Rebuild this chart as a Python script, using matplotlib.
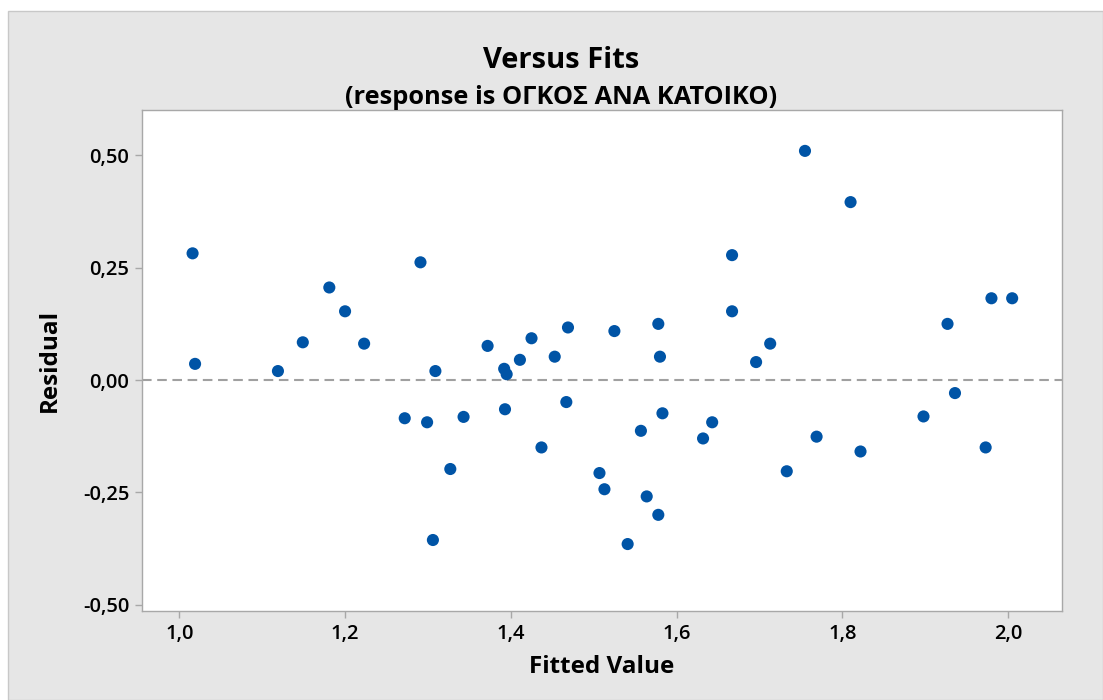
import matplotlib
matplotlib.use("Agg")
import matplotlib.pyplot as plt
from matplotlib.ticker import FuncFormatter
from matplotlib.patches import Rectangle

plt.rcParams['font.family'] = ['Open Sans', 'DejaVu Sans']

fitted = [1.016, 1.019, 1.119, 1.149, 1.181, 1.200, 1.223, 1.272, 1.291, 1.299,
          1.306, 1.309, 1.327, 1.343, 1.372, 1.392, 1.395, 1.393, 1.411, 1.425,
          1.437, 1.453, 1.467, 1.469, 1.507, 1.513, 1.525, 1.541, 1.557, 1.564,
          1.578, 1.578, 1.580, 1.583, 1.632, 1.643, 1.667, 1.667, 1.696, 1.713,
          1.733, 1.755, 1.769, 1.810, 1.822, 1.898, 1.927, 1.936, 1.973, 1.980,
          2.005]
residual = [0.282, 0.036, 0.020, 0.084, 0.206, 0.153, 0.081, -0.085, 0.262, -0.094,
            -0.356, 0.020, -0.198, -0.082, 0.076, 0.025, 0.013, -0.065, 0.045, 0.093,
            -0.150, 0.052, -0.049, 0.117, -0.207, -0.243, 0.109, -0.365, -0.113, -0.259,
            0.125, -0.300, 0.052, -0.074, -0.130, -0.094, 0.278, 0.153, 0.040, 0.081,
            -0.203, 0.510, -0.126, 0.396, -0.159, -0.081, 0.125, -0.029, -0.150, 0.182,
            0.182]
x_ticks = [1.0, 1.2, 1.4, 1.6, 1.8, 2.0]
y_ticks = [-0.50, -0.25, 0.0, 0.25, 0.50]

title = "Versus Fits"
subtitle = "(response is ΟΓΚΟΣ ΑΝΑ ΚΑΤΟΙΚΟ)"

W, H = 1103, 700
fig = plt.figure(figsize=(W / 100, H / 100), dpi=100)
fig.patch.set_facecolor('white')
# grey panel with thin border
panel = Rectangle((8 / W, 0), 1 - 8 / W, 1 - 11 / H, transform=fig.transFigure,
                  facecolor='#E6E6E6', edgecolor='#C8C8C8', linewidth=1.0, zorder=-10)
fig.patches.append(panel)

left, right, top, bottom = 141.7, 1062.3, 110, 611
ax = fig.add_axes([left / W, 1 - bottom / H, (right - left) / W, (bottom - top) / H])
ax.set_facecolor('white')

ax.axhline(0, color='#A0A0A0', linestyle=(0, (4.6, 2.7)), linewidth=1.5, zorder=1)
ax.scatter(fitted, residual, s=76, color='#0054A6', edgecolors='none', zorder=3)

ax.set_xlim(0.9546, 2.0655)
ax.set_ylim(-0.514, 0.601)
ax.set_xticks(x_ticks)
ax.set_yticks(y_ticks)
ax.xaxis.set_major_formatter(FuncFormatter(lambda v, p: f"{v:.1f}".replace('.', ',')))
ax.yaxis.set_major_formatter(FuncFormatter(lambda v, p: f"{v:.2f}".replace('.', ',')))

for s in ax.spines.values():
    s.set_color('#A8A8A8')
    s.set_linewidth(1.0)
ax.tick_params(axis='both', direction='out', length=5, width=1, color='#A8A8A8',
               labelsize=14.5, labelcolor='black', pad=4)
for lab in ax.get_xticklabels() + ax.get_yticklabels():
    lab.set_fontweight('semibold')

ax.set_xlabel("Fitted Value", fontsize=17.5, fontweight='bold', labelpad=8)
ax.set_ylabel("Residual", fontsize=17.5, fontweight='bold', labelpad=15)

cx = 561 / W
fig.text(cx, 1 - 61 / H, title, ha='center', va='center',
         fontsize=21, fontweight='bold')
fig.text(cx, 1 - 98 / H, subtitle, ha='center', va='center',
         fontsize=18.3, fontweight='bold')

fig.savefig("out.png", dpi=100, facecolor=fig.get_facecolor())
